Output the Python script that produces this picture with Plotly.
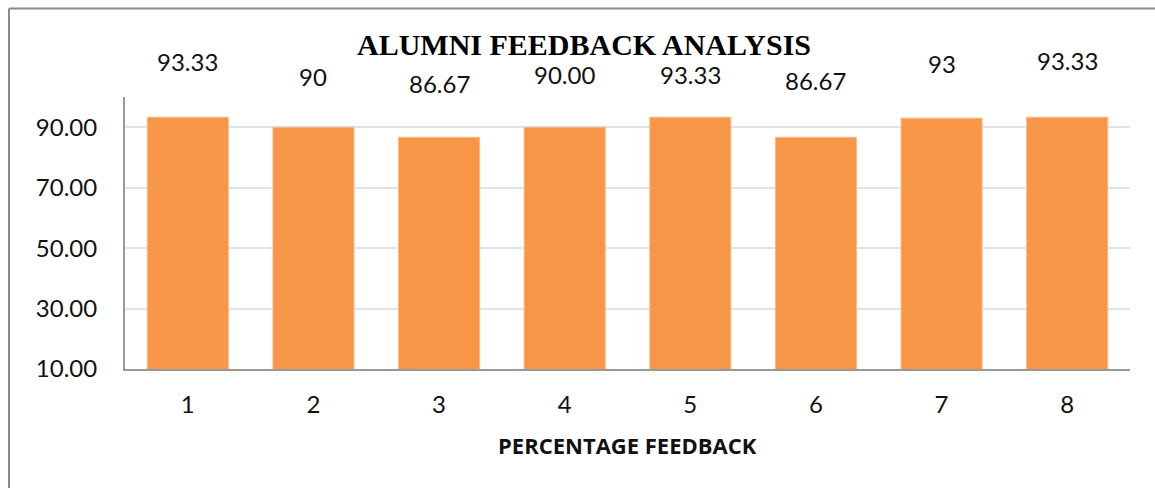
import plotly.graph_objects as go

categories = ["1", "2", "3", "4", "5", "6", "7", "8"]
values = [93.33, 90, 86.67, 90.00, 93.33, 86.67, 93, 93.33]
label_texts = ["93.33", "90", "86.67", "90.00", "93.33", "86.67", "93", "93.33"]
y_ticks = [10, 30, 50, 70, 90]

# layout: label vertical positions (paper coords), styling only
label_pos = [1.131, 1.076, 1.051, 1.084, 1.084, 1.060, 1.124, 1.133]

W, H = 1155, 488
L, R, T, B = 125, 25, 97, 119
pw, ph = W - L - R, H - T - B

fig = go.Figure(go.Bar(
    x=categories, y=values,
    marker=dict(color="#F79646", line=dict(color="#FBB987", width=1)),
))

font_fam = "Lato"
ann = []
for i, (t, p) in enumerate(zip(label_texts, label_pos)):
    ann.append(dict(x=i, y=p, xref="x", yref="paper", text=t, showarrow=False,
                    yanchor="middle", font=dict(family=font_fam, size=24, color="#111")))
ann.append(dict(x=0.5, y=(H - B - 445) / ph, xref="paper", yref="paper",
                text="<b>PERCENTAGE FEEDBACK</b>", showarrow=False, yanchor="middle",
                font=dict(family="Open Sans", size=22, color="#111")))

shapes = [
    dict(type="line", xref="paper", yref="paper",
         x0=(9 - L) / pw, x1=(W - L) / pw, y0=(H - B - 8.5) / ph, y1=(H - B - 8.5) / ph,
         line=dict(color="#8a8a8a", width=2)),
    dict(type="line", xref="paper", yref="paper",
         x0=(9 - L) / pw, x1=(9 - L) / pw, y0=(H - B - 8.5) / ph, y1=(H - B - H) / ph,
         line=dict(color="#8a8a8a", width=2)),
]

fig.update_layout(
    width=W, height=H,
    margin=dict(l=L, r=R, t=T, b=B, pad=0),
    paper_bgcolor="white", plot_bgcolor="white",
    bargap=0.355,
    showlegend=False,
    title=dict(text="<b>ALUMNI FEEDBACK ANALYSIS</b>", x=584 / W, xref="container",
               y=1 - 44 / H, yref="container", xanchor="center", yanchor="middle",
               font=dict(family="Liberation Serif", size=30, color="#000")),
    annotations=ann,
    shapes=shapes,
    xaxis=dict(showgrid=False, showline=True, linecolor="#999999", linewidth=2,
               ticks="", tickfont=dict(family=font_fam, size=24, color="#111"),
               ticklabelstandoff=13),
    yaxis=dict(range=[10, 100], tickvals=y_ticks, tickformat=".2f",
               showgrid=True, gridcolor="#DCE4EE", gridwidth=1.5,
               showline=True, linecolor="#999999", linewidth=2, zeroline=False,
               ticks="", tickfont=dict(family=font_fam, size=24, color="#111"),
               ticklabelstandoff=21),
)
fig.write_html("out.html", config={"displayModeBar": False},
               post_script="document.body.style.margin='0px';")
